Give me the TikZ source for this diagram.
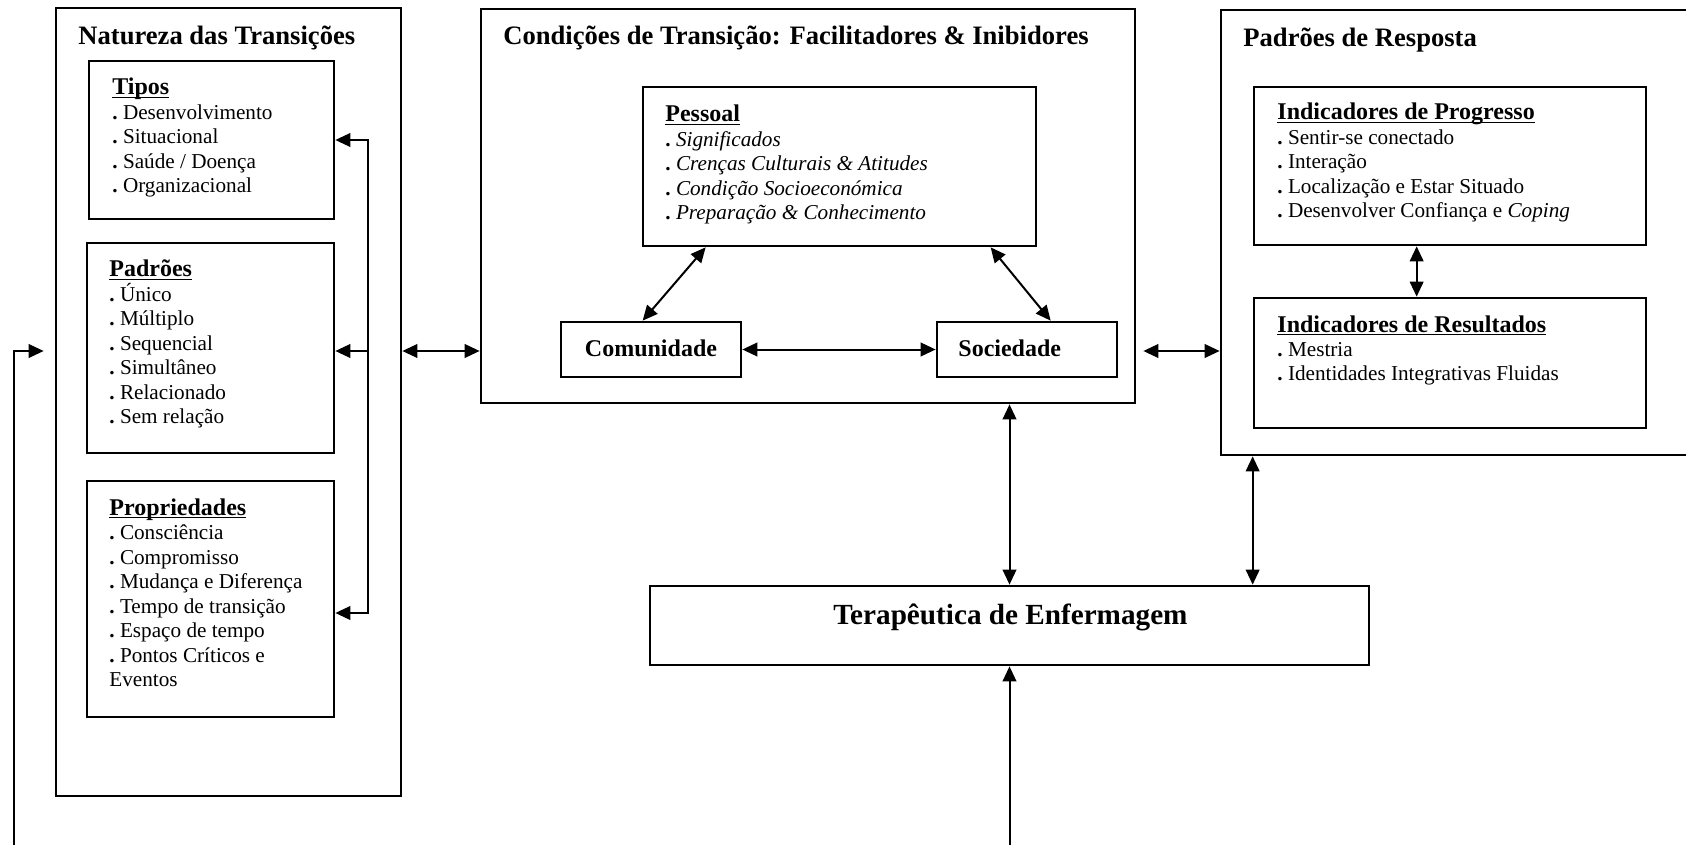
\documentclass[tikz,border=0pt]{standalone}
\usepackage{fontspec}
\setmainfont{Liberation Serif}
\usetikzlibrary{arrows.meta,fit,calc}

\newcommand\hdul[1]{\leavevmode\setbox0\hbox{#1}\rlap{\rule[-1.7pt]{\wd0}{0.8pt}}\box0}
\newcommand\bul{\textbf{.}\ }
\newcommand\titlefont{\fontsize{13.3}{15}\selectfont\bfseries}
\newcommand\bodyfont{\fontsize{10.6}{12.25}\selectfont}
\newcommand\hdfont{\fontsize{12}{12.25}\selectfont\bfseries}
\newcommand\terfont{\fontsize{14.6}{16}\selectfont\bfseries}

\begin{document}
\begin{tikzpicture}[x=0.5pt,y=-0.5pt,
  boxst/.style={draw, line width=1.35pt, inner sep=0pt},
  txtst/.style={anchor=base west, inner sep=0pt, font=\bodyfont},
  ttlst/.style={anchor=base west, inner sep=0pt, font=\titlefont},
  lblst/.style={inner sep=0pt, font=\hdfont},
  arrst/.style={-{Triangle[length=7.5pt,width=6.8pt]}, line width=1pt},
  darrst/.style={{Triangle[length=7.5pt,width=6.8pt]}-{Triangle[length=7.5pt,width=6.8pt]}, line width=1pt},
  lnst/.style={line width=1pt}]

\useasboundingbox (0,0) rectangle (1686,845);
\fill[white] (0,0) rectangle (1686,845);
\clip (0,0) rectangle (1686,845);

% ---------- boxes ----------
\node[boxst, fit={(56,8) (401,796)}] (nat) {};
\node[boxst, fit={(89,61) (334,219)}] (tipos) {};
\node[boxst, fit={(87,243) (334,453)}] (pad) {};
\node[boxst, fit={(87,481) (334,717)}] (prop) {};
\node[boxst, fit={(481,9) (1135,403)}] (cond) {};
\node[boxst, fit={(643,87) (1036,246)}] (pes) {};
\node[boxst, fit={(561,322) (741,377)}] (com) {};
\node[boxst, fit={(937,322) (1117,377)}] (soc) {};
\node[boxst, fit={(1221,10) (1700,455)}] (resp) {};
\node[boxst, fit={(1254,87) (1646,245)}] (prog) {};
\node[boxst, fit={(1254,298) (1646,428)}] (res) {};
\node[boxst, fit={(650,586) (1369,665)}] (ter) {};

% ---------- titles ----------
\node[ttlst] (natT) at (78,45) {Natureza das Transições};
\node[ttlst] (condT) at (503,45) {Condições de Transição: Facilitadores \& Inibidores};
\node[ttlst] (respT) at (1243,47) {Padrões de Resposta};

% ---------- texts ----------
\node[txtst] (tiposT) at (112,95) {\parbox[t]{220pt}{\hdul{\hdfont Tipos}\\
\bul Desenvolvimento\\
\bul Situacional\\
\bul Saúde / Doença\\
\bul Organizacional}};

\node[txtst] (padT) at (109,277) {\parbox[t]{220pt}{\hdul{\hdfont Padrões}\\
\bul Único\\
\bul Múltiplo\\
\bul Sequencial\\
\bul Simultâneo\\
\bul Relacionado\\
\bul Sem relação}};

\node[txtst] (propT) at (109,515) {\parbox[t]{220pt}{\hdul{\hdfont Propriedades}\\
\bul Consciência\\
\bul Compromisso\\
\bul Mudança e Diferença\\
\bul Tempo de transição\\
\bul Espaço de tempo\\
\bul Pontos Críticos e\\
Eventos}};

\node[txtst] (pesT) at (665,122) {\parbox[t]{300pt}{\hdul{\hdfont Pessoal}\\
\bul\textit{Significados}\\
\bul\textit{Crenças Culturais \& Atitudes}\\
\bul\textit{Condição Socioeconómica}\\
\bul\textit{Preparação \& Conhecimento}}};

\node[lblst, anchor=base] (comT) at (651,357) {Comunidade};
\node[lblst, anchor=base west] (socT) at (958,357) {Sociedade};

\node[txtst] (progT) at (1277,120) {\parbox[t]{300pt}{\hdul{\hdfont Indicadores de Progresso}\\
\bul Sentir-se conectado\\
\bul Interação\\
\bul Localização e Estar Situado\\
\bul Desenvolver Confiança e \textit{Coping}}};

\node[txtst] (resT) at (1277,332) {\parbox[t]{300pt}{\hdul{\hdfont Indicadores de Resultados}\\
\bul Mestria\\
\bul Identidades Integrativas Fluidas}};

\node[anchor=base west, inner sep=0pt, font=\terfont] (terT) at (833,624) {Terapêutica de Enfermagem};

% ---------- helper coordinates ----------
\coordinate (midy) at (0,351);
\coordinate (bt) at (368,140);
\coordinate (bb) at (368,613);
\coordinate (fbstart) at (13.5,850);
\coordinate (fbcorner) at (13.5,351);
\coordinate (tbot) at (1009.5,850);

% ---------- connectors ----------
% bus inside Natureza
\draw[darrst] (tipos.east |- bt) -- (bt) -- (bb) -- (prop.east |- bb);
\draw[arrst] (bt |- midy) -- (pad.east |- midy);

% between main boxes
\draw[darrst] (nat.east |- midy) -- (cond.west |- midy);
\draw[darrst] ($(cond.east |- midy)+(7,0)$) -- (resp.west |- midy);

% feedback line on the left
\draw[arrst] (fbstart) -- (fbcorner) -- ($(nat.west |- midy)+(-11,0)$);

% inside Condições
\draw[darrst] ($(pes.south west)+(64,0)$) -- ($(com.north west)+(83,0)$);
\draw[darrst] ($(pes.south west)+(349,0)$) -- ($(soc.north west)+(115,0)$);
\draw[darrst] (com.east) -- (soc.west);

% inside Padrões de Resposta
\draw[darrst] ($(prog.south west)+(164,0)$) -- ($(res.north west)+(164,0)$);

% Terapêutica connections
\draw[darrst] (ter.north) -- (ter.north |- cond.south);
\draw[darrst] (ter.north -| res.west) -- (resp.south -| res.west);
\draw[arrst] (tbot) -- (ter.south);

\end{tikzpicture}
\end{document}
